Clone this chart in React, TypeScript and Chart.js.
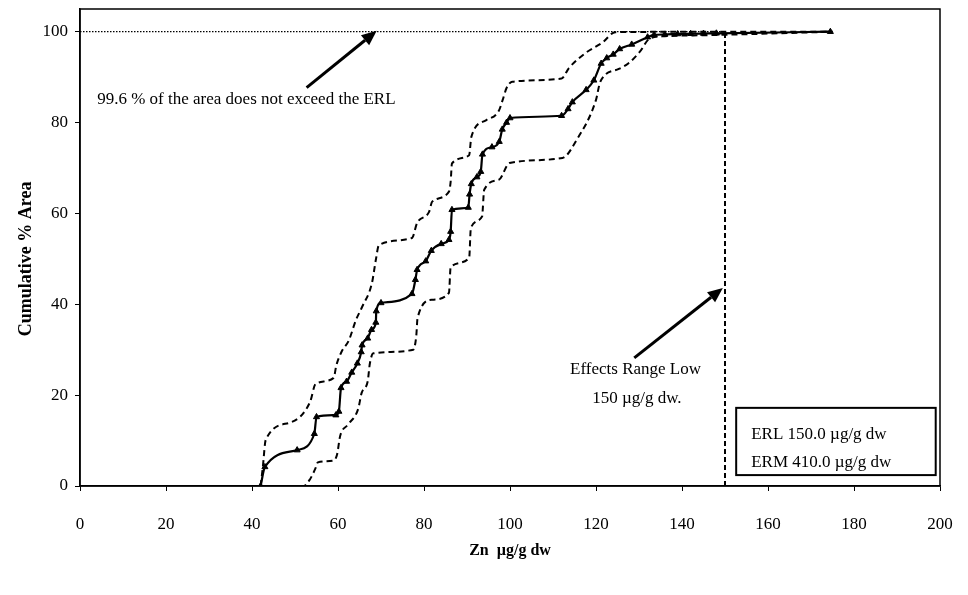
import React, { useEffect, useRef } from "react";
import { Chart, registerables } from "chart.js";

Chart.register(...registerables);

const FONT = '"Liberation Serif", "Times New Roman", serif';

// Axis ticks
const xTicks = [0, 20, 40, 60, 80, 100, 120, 140, 160, 180, 200];
const yTicks = [0, 20, 40, 60, 80, 100];

// Axis titles
const xTitle = "Zn  \u00b5g/g dw";
const yTitle = "Cumulative % Area";

// Cumulative % area (main estimate, with triangle markers)
const mainX = [42, 43, 50.5, 54.5, 55, 59.5, 60.2, 60.7, 62, 63.2, 64.5, 65.4, 65.6, 66.9, 67.8, 68.8, 68.9, 70, 77.2, 78, 78.4, 80.4, 81.7, 84, 85.8, 86.2, 86.5, 90.3, 90.6, 91, 92.3, 93.2, 93.6, 95.8, 97.5, 98.2, 99.2, 100, 112, 113.5, 114.5, 117.7, 119.5, 121.2, 122.5, 124, 125.5, 128.3, 132, 133.5, 136, 139, 142, 145, 148, 174.5];
const mainY = [0, 4.2, 7.9, 11.5, 15.2, 15.6, 16.4, 21.6, 23, 25, 27, 29.5, 31, 32.5, 34.4, 36, 38.5, 40.3, 42.3, 45.4, 47.6, 49.5, 51.8, 53.3, 54.2, 56, 60.8, 61.3, 64.2, 66.5, 68, 69.2, 73, 74.6, 75.8, 78.5, 80, 81, 81.5, 83, 84.5, 87.2, 89.3, 93, 94.2, 95, 96.2, 97.2, 98.8, 99.3, 99.4, 99.5, 99.55, 99.6, 99.65, 100];

// Upper confidence band (dashed)
const upX = [42, 42.5, 43.2, 49, 53.5, 54.8, 59, 59.6, 60.8, 62.5, 64.2, 65.6, 67.9, 68.8, 69.5, 77.2, 78.4, 81.2, 81.9, 85.8, 86.2, 86.5, 90.5, 91, 94.4, 97.4, 98.3, 99.2, 100.5, 112, 113.7, 117.7, 121.5, 124.5, 150, 175];
const upY = [0, 4, 10.2, 14, 18.5, 22.5, 23.8, 26.5, 29.5, 32, 36.6, 39.4, 44.7, 49.8, 53, 54.6, 57.9, 60.4, 62.6, 64.8, 67, 71, 72.8, 76.8, 80.5, 82.6, 85, 87.6, 89, 89.7, 92, 95.4, 97.6, 99.9, 100, 100];

// Lower confidence band (dashed)
const lowX = [42, 52, 53.5, 54.8, 55.3, 59, 59.8, 60.5, 62.3, 64.7, 65.5, 66.9, 67.4, 68.2, 77.5, 78.2, 78.5, 81.9, 85.8, 86.2, 90.5, 90.9, 93.5, 94, 97.4, 99.9, 112.2, 115.5, 120, 121, 125.3, 127.5, 130.2, 132.5, 136, 148.8, 175];
const lowY = [0, 0, 1.5, 4, 5.2, 5.6, 7, 11, 13.5, 17, 20.5, 23, 26.9, 29.2, 30, 33, 37, 41, 42.5, 48.2, 50.2, 56.8, 59.3, 65.2, 67.4, 71.1, 72.2, 76.2, 85, 89, 91.8, 93, 95.6, 98.5, 99, 99.3, 100];

// Guideline values
const ERL = 150;
const areaPct = 100;

// Annotation texts
const note1 = "99.6 % of the area does not exceed the ERL";
const note2a = "Effects Range Low";
const note2b = "150 \u00b5g/g dw.";
const legendLines = ["ERL 150.0 \u00b5g/g dw", "ERM 410.0 \u00b5g/g dw"];

const pts = (xs: number[], ys: number[]) => xs.map((v, i) => ({ x: v, y: ys[i] }));

function drawArrow(ctx: CanvasRenderingContext2D, x1: number, y1: number, x2: number, y2: number) {
  const ang = Math.atan2(y2 - y1, x2 - x1);
  const head = 15;
  const hw = 6.5;
  const bx = x2 - head * Math.cos(ang);
  const by = y2 - head * Math.sin(ang);
  ctx.beginPath();
  ctx.moveTo(x1, y1);
  ctx.lineTo(bx, by);
  ctx.lineWidth = 3;
  ctx.stroke();
  ctx.beginPath();
  ctx.moveTo(x2, y2);
  ctx.lineTo(bx + hw * Math.sin(ang), by - hw * Math.cos(ang));
  ctx.lineTo(bx - hw * Math.sin(ang), by + hw * Math.cos(ang));
  ctx.closePath();
  ctx.fill();
}

const annotPlugin = {
  id: "annot",
  afterDatasetsDraw(chart: any) {
    const { ctx, chartArea, scales } = chart;
    const x = scales.x;
    const y = scales.y;
    ctx.save();
    ctx.strokeStyle = "#000";
    ctx.fillStyle = "#000";
    // plot frame
    ctx.lineWidth = 1.5;
    ctx.strokeRect(chartArea.left, chartArea.top, chartArea.right - chartArea.left, chartArea.bottom - chartArea.top);

    // y-axis title, centred on the 0-100 range
    ctx.save();
    ctx.translate(26, (y.getPixelForValue(0) + y.getPixelForValue(100)) / 2);
    ctx.rotate(-Math.PI / 2);
    ctx.font = `bold 18px ${FONT}`;
    ctx.textAlign = "center";
    ctx.textBaseline = "middle";
    ctx.fillText(yTitle, 0, 0);
    ctx.restore();

    // arrows
    drawArrow(ctx, x.getPixelForValue(52.7), y.getPixelForValue(87.7), x.getPixelForValue(69), y.getPixelForValue(100.2));
    drawArrow(ctx, x.getPixelForValue(128.9), y.getPixelForValue(28.2), x.getPixelForValue(149.5), y.getPixelForValue(43.6));

    // texts
    ctx.font = `17px ${FONT}`;
    ctx.textBaseline = "middle";
    ctx.textAlign = "left";
    ctx.fillText(note1, x.getPixelForValue(4), y.getPixelForValue(85));
    ctx.textAlign = "center";
    ctx.fillText(note2a, x.getPixelForValue(129.2), y.getPixelForValue(25.6));
    ctx.fillText(note2b, x.getPixelForValue(129.5), y.getPixelForValue(19.2));

    // legend box
    const bx1 = x.getPixelForValue(152.6);
    const bx2 = x.getPixelForValue(199);
    const by1 = y.getPixelForValue(17.2);
    const by2 = y.getPixelForValue(2.4);
    ctx.fillStyle = "#fff";
    ctx.fillRect(bx1, by1, bx2 - bx1, by2 - by1);
    ctx.lineWidth = 2;
    ctx.strokeRect(bx1, by1, bx2 - bx1, by2 - by1);
    ctx.fillStyle = "#000";
    ctx.textAlign = "left";
    ctx.font = `17px ${FONT}`;
    ctx.fillText(legendLines[0], x.getPixelForValue(156.1), y.getPixelForValue(11.4));
    ctx.fillText(legendLines[1], x.getPixelForValue(156.1), y.getPixelForValue(5.2));
    ctx.restore();
  },
};

export default function App() {
  const ref = useRef<HTMLCanvasElement | null>(null);

  useEffect(() => {
    if (!ref.current) return;
    const chart = new Chart(ref.current, {
      type: "scatter",
      data: {
        datasets: [
          {
            data: [{ x: 0, y: areaPct }, { x: ERL, y: areaPct }],
            showLine: true,
            borderColor: "#000",
            borderWidth: 1.3,
            borderDash: [1.5, 1.5],
            pointRadius: 0,
          },
          {
            data: [{ x: ERL, y: 0 }, { x: ERL, y: 99.6 }],
            showLine: true,
            borderColor: "#000",
            borderWidth: 2,
            borderDash: [5, 3],
            pointRadius: 0,
          },
          {
            data: pts(upX, upY),
            showLine: true,
            borderColor: "#000",
            borderWidth: 2,
            borderDash: [6, 4],
            pointRadius: 0,
            cubicInterpolationMode: "monotone",
          },
          {
            data: pts(lowX, lowY),
            showLine: true,
            borderColor: "#000",
            borderWidth: 2,
            borderDash: [6, 4],
            pointRadius: 0,
            cubicInterpolationMode: "monotone",
          },
          {
            data: pts(mainX, mainY),
            showLine: true,
            borderColor: "#000",
            borderWidth: 2.2,
            pointStyle: "triangle",
            pointRadius: 3.5,
            pointBackgroundColor: "#000",
            pointBorderColor: "#000",
            pointBorderWidth: 1,
            cubicInterpolationMode: "monotone",
          },
        ],
      },
      options: {
        animation: false,
        responsive: false,
        maintainAspectRatio: false,
        layout: { padding: { top: 9, right: 28, left: 0, bottom: 0 } },
        plugins: { legend: { display: false }, tooltip: { enabled: false } },
        scales: {
          x: {
            type: "linear",
            min: 0,
            max: 200,
            afterBuildTicks: (s: any) => {
              s.ticks = xTicks.map((v) => ({ value: v }));
            },
            afterFit: (s: any) => {
              s.height = 109;
              s.paddingLeft = 0;
              s.paddingRight = 0;
            },
            ticks: {
              color: "#000",
              font: { family: FONT, size: 17 },
              padding: 23,
              maxRotation: 0,
            },
            grid: { display: true, drawOnChartArea: false, drawTicks: true, tickLength: 5, color: "#000", lineWidth: 1 },
            border: { display: true, color: "#000", width: 1.5 },
            title: {
              display: true,
              text: xTitle,
              color: "#000",
              font: { family: FONT, size: 16, weight: "bold" },
              padding: { top: 0, bottom: 35 },
            },
          },
          y: {
            type: "linear",
            min: 0,
            max: 105,
            afterBuildTicks: (s: any) => {
              s.ticks = yTicks.map((v) => ({ value: v }));
            },
            afterFit: (s: any) => {
              s.width = 80;
              s.paddingTop = 0;
              s.paddingBottom = 0;
            },
            ticks: {
              color: "#000",
              font: { family: FONT, size: 17 },
              padding: 7,
            },
            grid: { display: true, drawOnChartArea: false, drawTicks: true, tickLength: 5, color: "#000", lineWidth: 1 },
            border: { display: true, color: "#000", width: 1.5 },
            title: { display: false },
          },
        },
      },
      plugins: [annotPlugin],
    } as any);
    return () => chart.destroy();
  }, []);

  return (
    <div style={{ position: "fixed", left: 0, top: 0, width: 968, height: 595, background: "#fff" }}>
      <canvas ref={ref} width={968} height={595} style={{ display: "block" }} />
    </div>
  );
}
